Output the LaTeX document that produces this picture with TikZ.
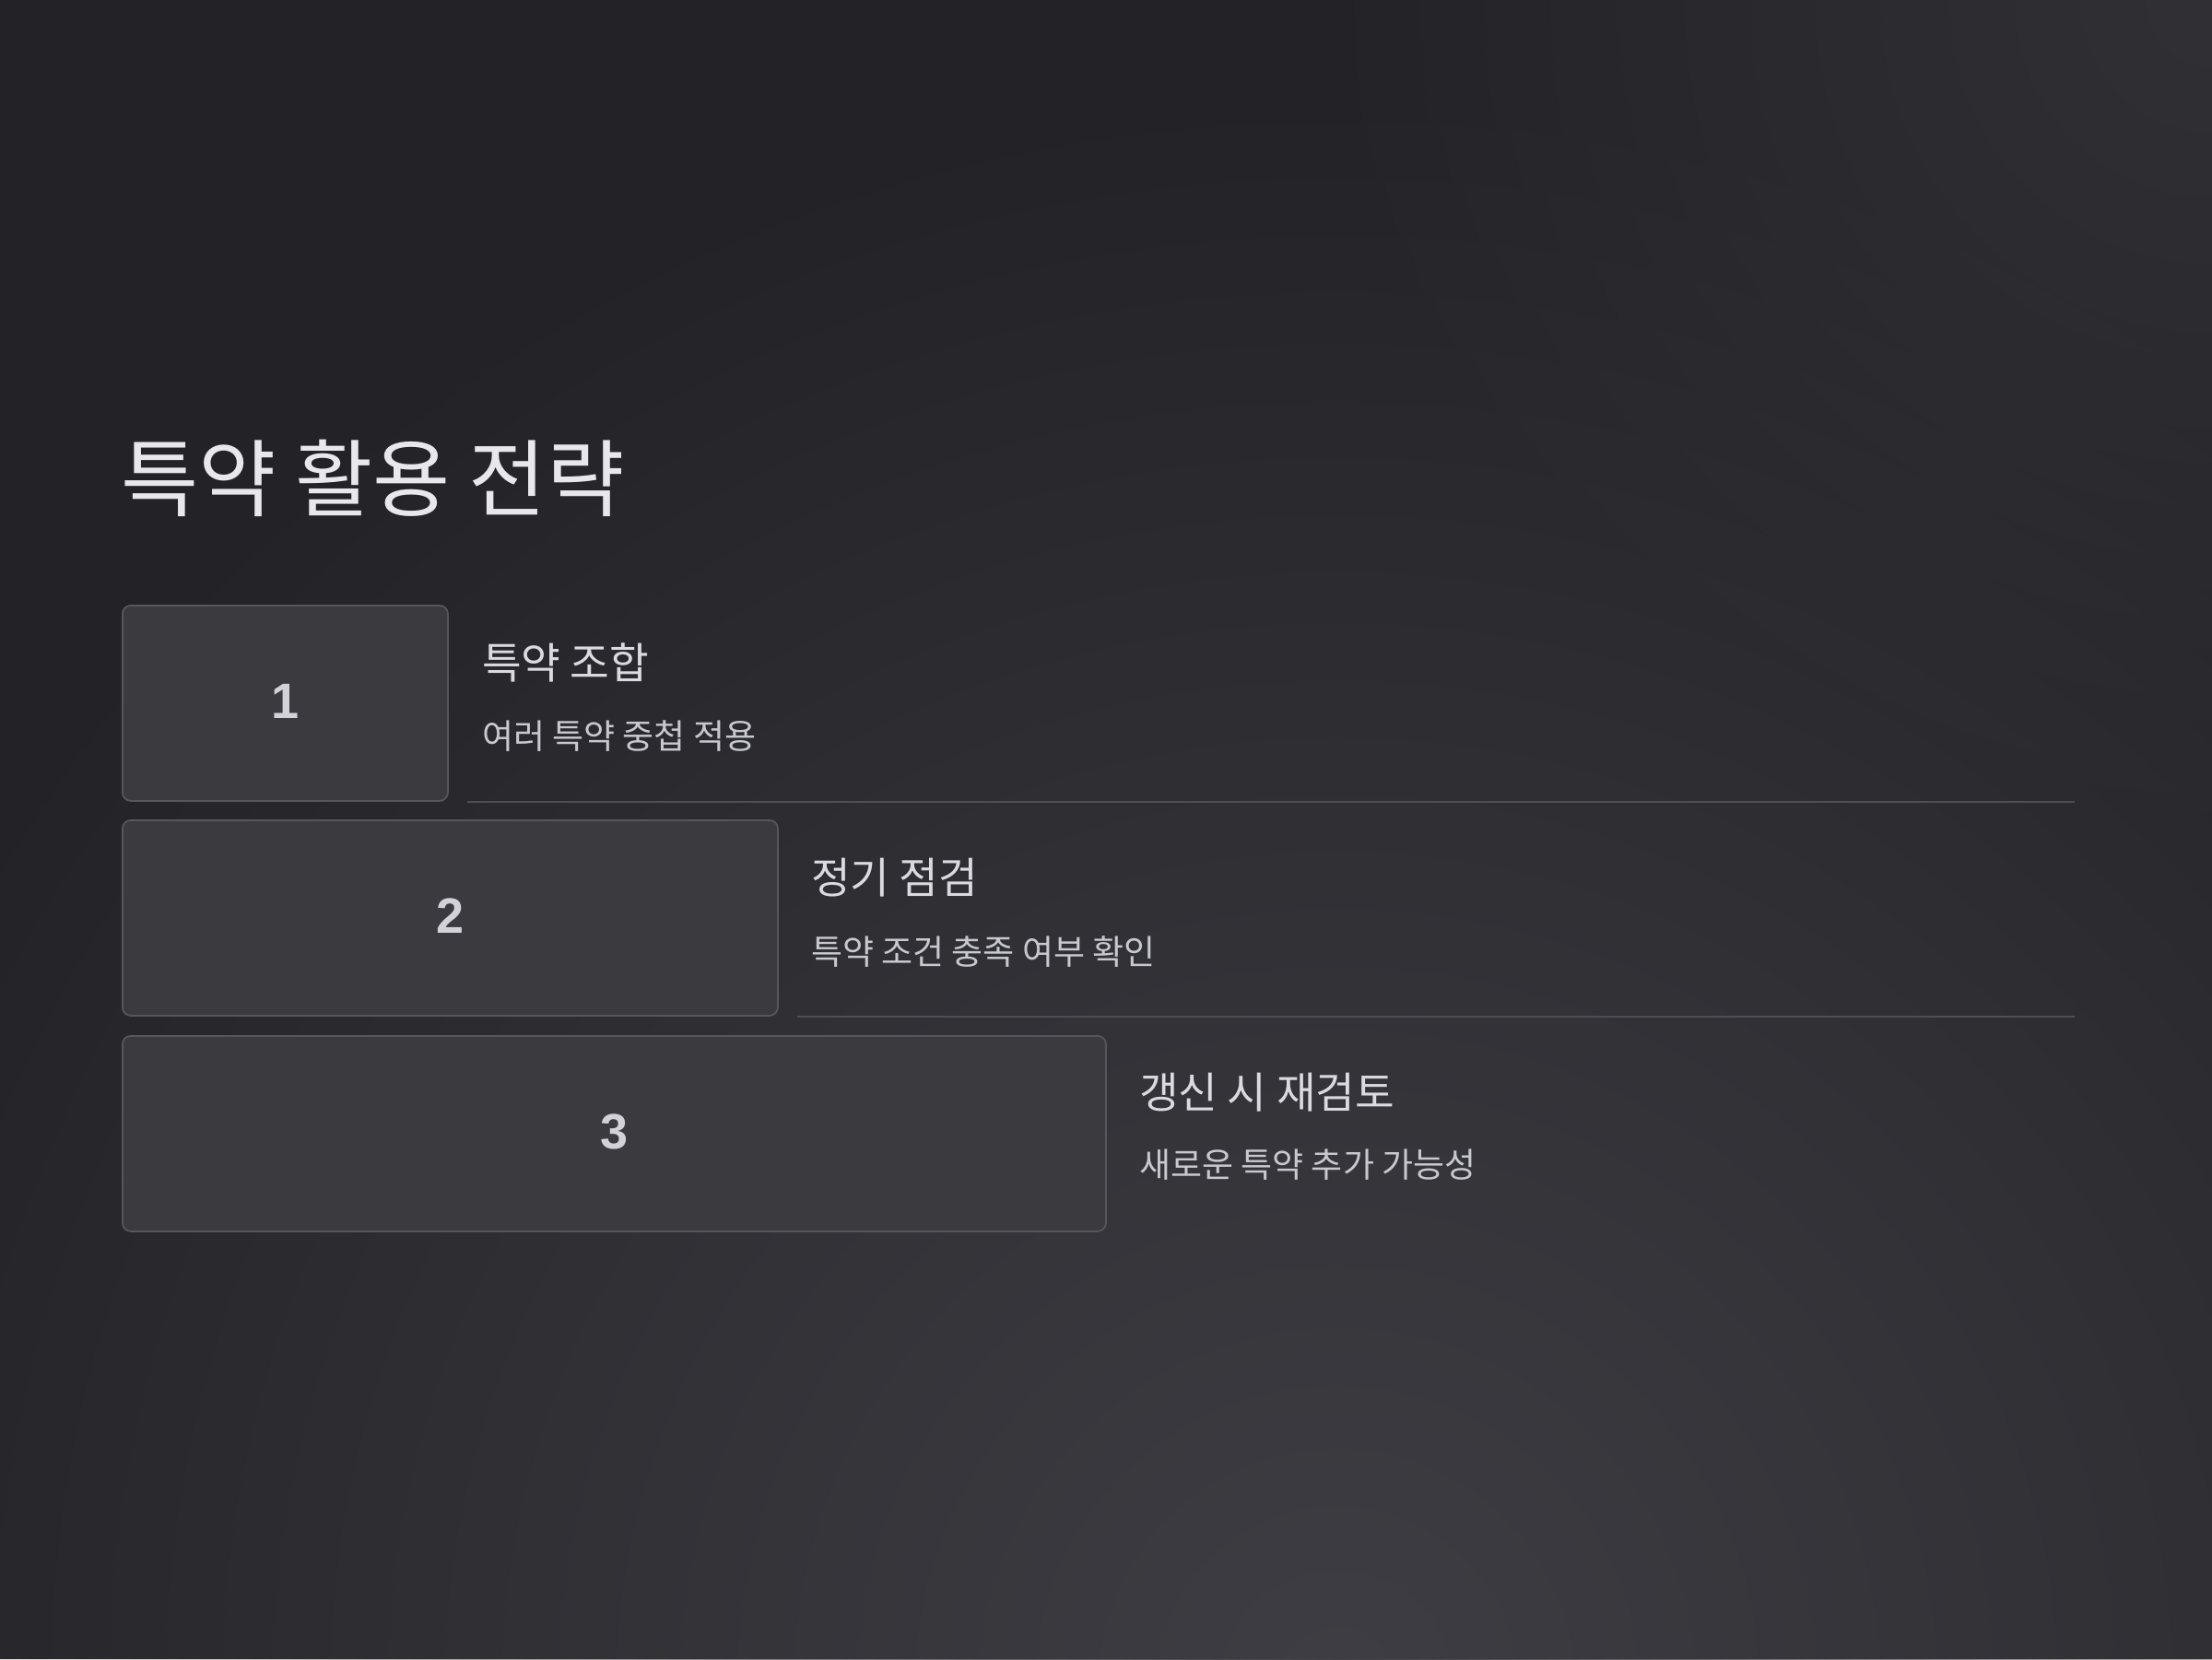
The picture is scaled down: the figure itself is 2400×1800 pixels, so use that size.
\documentclass[tikz,border=0pt]{standalone}
\usepackage{fontspec}
\usetikzlibrary{fadings}
\setmainfont{Noto Sans CJK KR}
\newfontfamily\numfont{Liberation Sans}
\definecolor{bgbase}{HTML}{232327}
\definecolor{bglite}{HTML}{3F3E44}
\definecolor{bgtr}{HTML}{313035}
\definecolor{boxfill}{HTML}{3A3A3F}
\definecolor{boxline}{HTML}{56565C}
\definecolor{sepline}{HTML}{4E4E54}
\definecolor{titlecol}{HTML}{E8E8EC}
\definecolor{headcol}{HTML}{DADAE0}
\definecolor{subcol}{HTML}{C8C8CF}
\definecolor{numcol}{HTML}{D2D2D8}
\tikzfading[name=glowfade, inner color=transparent!0, outer color=transparent!100]
\begin{document}
\begin{tikzpicture}[x=1pt,y=-1pt,
  stepbox/.style={draw=boxline, line width=1.8pt, fill=boxfill, rounded corners=9pt,
    minimum height=212pt, anchor=north west, inner sep=0pt,
    font=\numfont\bfseries\fontsize{54}{60}\selectfont, text=numcol},
  headtxt/.style={anchor=west, inner sep=0pt, text=headcol, font=\fontsize{46.4}{52}\selectfont},
  subtxt/.style={anchor=west, inner sep=0pt, text=subcol, font=\fontsize{37}{42}\selectfont},
  sep/.style={draw=sepline, line width=2pt}]
\useasboundingbox (0,0) rectangle (2400,1800);
\fill[bgbase] (0,0) rectangle (2400,1800);
\begin{scope}
  \clip (0,0) rectangle (2400,1800);
  \fill[bglite, path fading=glowfade] (1450,1830) circle (1750);
  \fill[bgtr, path fading=glowfade] (2400,0) circle (1000);
\end{scope}

\node[anchor=west, inner sep=0pt, text=titlecol, font=\fontsize{91.5}{100}\selectfont] (title) at (131,519) {특약 활용 전략};

\node[stepbox, minimum width=353pt] (b1) at (132,656) {\raisebox{4pt}{1}};
\node[stepbox, minimum width=711pt] (b2) at (132,889) {\raisebox{4pt}{2}};
\node[stepbox, minimum width=1067pt] (b3) at (132,1123) {\raisebox{4pt}{3}};

\node[headtxt] (h1) at (523,719) {특약 조합};
\node[subtxt] (s1) at (523,799) {여러 특약 중첩 적용};
\node[headtxt] (h2) at (880,952) {정기 점검};
\node[subtxt] (s2) at (880,1033) {특약 조건 충족 여부 확인};
\node[headtxt] (h3) at (1236,1185) {갱신 시 재검토};
\node[subtxt] (s3) at (1236,1264) {새로운 특약 추가 가능성};

\coordinate (rend) at (2251,0);
\coordinate (l1s) at ([xshift=20pt]b1.south east);
\coordinate (l2s) at ([xshift=20pt]b2.south east);
\draw[sep] (l1s) -- (l1s -| rend);
\draw[sep] (l2s) -- (l2s -| rend);
\end{tikzpicture}
\end{document}
